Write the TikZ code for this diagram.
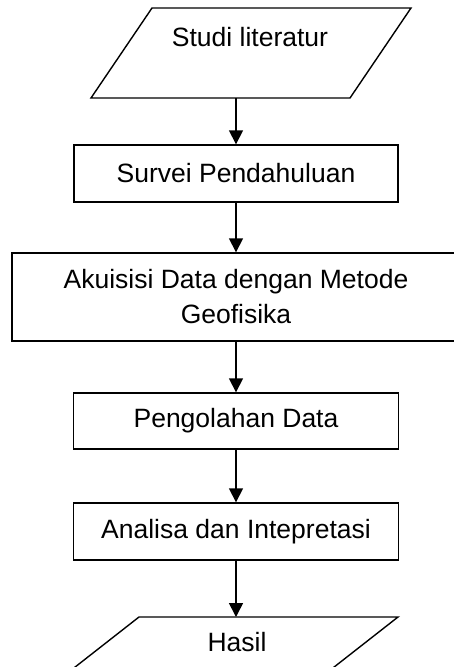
\documentclass[tikz,border=0pt]{standalone}
\usepackage{fontspec}
\setmainfont{Liberation Sans}
\usetikzlibrary{arrows.meta}
\begin{document}
\begin{tikzpicture}[x=1pt,y=-1pt,
  every node/.style={font=\fontsize{26.5}{35}\selectfont},
  boxstyle/.style={draw, line width=1.4pt, rectangle, align=center, inner sep=0pt},
  shapeline/.style={draw, line width=1.4pt, line join=miter},
  flowarrow/.style={line width=1.6pt, -{Triangle[length=14pt,width=14pt]}}]
\useasboundingbox (0,0) rectangle (454,667);
\clip (0,0) rectangle (454,667);
% top parallelogram
\path[shapeline] (152,8) -- (411,8) -- (350,98) -- (91,98) -- cycle;
\node (studi) at (250,37) {Studi literatur};
\coordinate (studiout) at (236,98);
\node[boxstyle, minimum width=324pt, minimum height=57pt] (survei) at (236,173.5) {Survei Pendahuluan};
\node[boxstyle, minimum width=448pt, minimum height=88pt] (akuisisi) at (236,297) {Akuisisi Data dengan Metode\\Geofisika};
\node[boxstyle, minimum width=325pt, minimum height=56pt] (olah) at (236,421) {Pengolahan Data};
\node[boxstyle, minimum width=325pt, minimum height=57pt] (analisa) at (236,531.5) {Analisa dan Intepretasi};
% bottom parallelogram
\path[shapeline] (33,700) -- (139,617) -- (398,617) -- (292,700);
\node (hasil) at (237,642) {Hasil};
\coordinate (hasilin) at (236,617);
\draw[flowarrow] (studiout) -- (survei.north);
\draw[flowarrow] (survei.south) -- (akuisisi.north);
\draw[flowarrow] (akuisisi.south) -- (olah.north);
\draw[flowarrow] (olah.south) -- (analisa.north);
\draw[flowarrow] (analisa.south) -- (hasilin);
\end{tikzpicture}
\end{document}
